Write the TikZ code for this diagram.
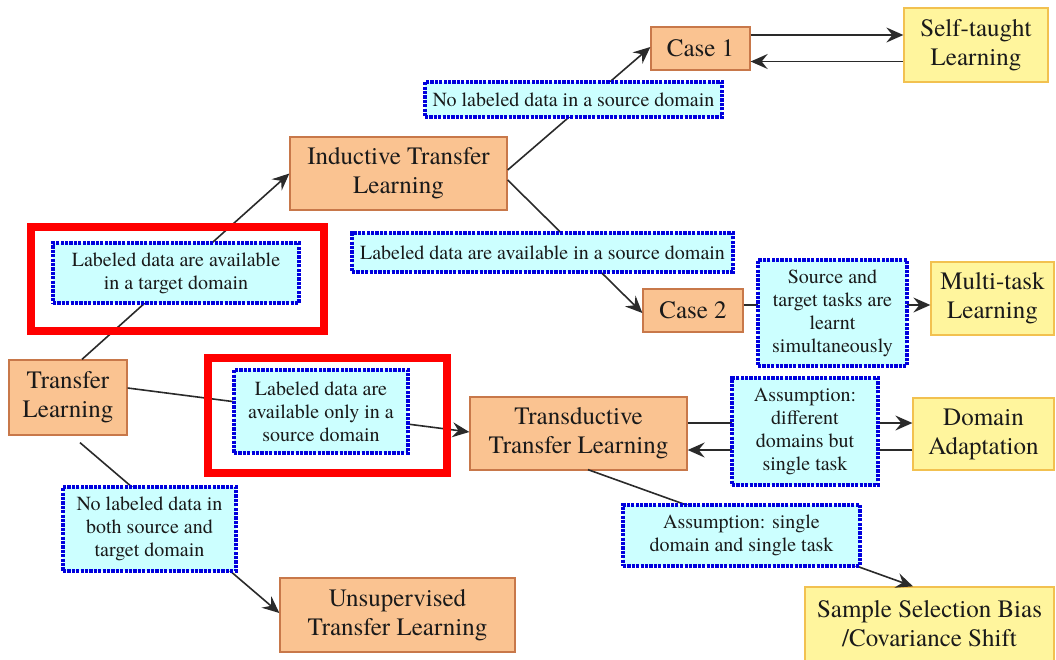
\documentclass[tikz,border=0pt]{standalone}
\usepackage{fontspec}
\setmainfont{TeX Gyre Termes}
\usetikzlibrary{arrows.meta,calc}

\definecolor{boxfill}{HTML}{FAC391}
\definecolor{boxline}{HTML}{C8784A}
\definecolor{leaffill}{HTML}{FFF59D}
\definecolor{leafline}{HTML}{F2C150}
\definecolor{condfill}{HTML}{CCFFFF}
\definecolor{condline}{HTML}{0000DD}
\definecolor{wire}{HTML}{2A2A2A}
\definecolor{ink}{HTML}{1A1A1A}

\tikzset{
  mainbox/.style={draw=boxline, fill=boxfill, line width=1.3pt, text=ink,
    font=\rmfamily\fontsize{25}{29}\selectfont, align=center, inner sep=0pt},
  leafbox/.style={mainbox, draw=leafline, fill=leaffill},
  condbox/.style={draw=condline, fill=condfill, line width=3.4pt,
    dash pattern=on 3.2pt off 1.2pt, text=ink,
    font=\rmfamily\fontsize{20}{23}\selectfont, align=center, inner sep=0pt},
  wireline/.style={draw=wire, line width=1.6pt},
  arrowline/.style={wireline, -{Stealth[length=17pt,width=15pt,inset=6pt]}},
  highlight/.style={draw=red, line width=8pt}
}

\begin{document}
\begin{tikzpicture}[x=1pt,y=-1pt]
\useasboundingbox (0,0) rectangle (1056,659);

% main categories
\node[mainbox, minimum width=118, minimum height=75] (TL) at (68,397.5) {Transfer\\Learning};
\node[mainbox, minimum width=217, minimum height=73] (Ind) at (398.5,173.5) {Inductive Transfer\\Learning};
\node[mainbox, minimum width=217, minimum height=73] (Trans) at (578.5,433.5) {Transductive\\Transfer Learning};
\node[mainbox, minimum width=235, minimum height=74] (Unsup) at (397.5,615) {Unsupervised\\Transfer Learning};
\node[mainbox, minimum width=99, minimum height=43] (Case1) at (700.5,48.5) {Case 1};
\node[mainbox, minimum width=100, minimum height=43] (Case2) at (693,310.5) {Case 2};

% resulting settings
\node[leafbox, minimum width=144, minimum height=74] (Self) at (976,45) {Self-taught\\Learning};
\node[leafbox, minimum width=123, minimum height=73] (Multi) at (992.5,298.5) {Multi-task\\Learning};
\node[leafbox, minimum width=141, minimum height=72] (DA) at (983.5,434) {Domain\\Adaptation};
\node[leafbox, minimum width=249, minimum height=74] (SSB) at (929.5,624) {Sample Selection Bias\\/Covariance Shift};

% connectors
\draw[arrowline] ($(TL.north)+(14,0)$) -- (Ind.west);
\draw[arrowline] ($(TL.east)+(0,-9.5)$) -- ($(Trans.west)+(0,-1.5)$);
\draw[arrowline] ($(TL.south)+(12,7)$) -- ($(Unsup.west)+(0,-2)$);
\draw[arrowline] ($(Ind.east)+(0,-3.5)$) -- ($(Case1.west)+(0,-1.5)$);
\draw[arrowline] ($(Ind.east)+(0,6.5)$) -- ($(Case2.west)+(0,2.5)$);

\coordinate (c1a) at ($(Case1.east)+(0,-13.5)$);
\coordinate (c1b) at ($(Case1.east)+(0,13)$);
\draw[arrowline] (c1a) -- (c1a -| Self.west);
\draw[arrowline] (c1b -| Self.west) -- (c1b);

\coordinate (c2a) at ($(Case2.east)+(0,-5.5)$);
\draw[arrowline] (c2a) -- (c2a -| Multi.west);

\coordinate (tra) at ($(Trans.east)+(0,-10.5)$);
\coordinate (trb) at ($(Trans.east)+(0,16.5)$);
\draw[arrowline] (tra) -- (tra -| DA.west);
\draw[arrowline] (trb -| DA.west) -- (trb);

\draw[arrowline] ($(Trans.south)+(9.5,-1)$) -- ($(SSB.north)+(-16.5,0)$);

% conditions, laid over the connectors
\node[condbox, minimum width=246, minimum height=60] (cTarget) at (176,273) {Labeled data are available\\in a target domain};
\node[condbox, minimum width=174, minimum height=83] (cOnlySrc) at (321,411.5) {Labeled data are\\available only in a\\source domain};
\node[condbox, minimum width=173, minimum height=84] (cNone) at (149.5,529) {No labeled data in\\both source and\\target domain};
\node[condbox, minimum width=297, minimum height=35] (cNoSrc) at (573.5,99.5) {No labeled data in a source domain};
\node[condbox, minimum width=381, minimum height=39] (cSrc) at (542.5,252.5) {Labeled data are available in a source domain};
\node[condbox, minimum width=149, minimum height=106] (cSimul) at (832.5,313) {Source and\\target tasks are\\learnt\\simultaneously};
\node[condbox, minimum width=146, minimum height=107] (cDiff) at (805,431.5) {Assumption:\\different\\domains but\\single task};
\node[condbox, minimum width=237, minimum height=61] (cSingle) at (741.5,535.5) {Assumption: single\\domain and single task};

% highlight frames
\draw[highlight] (31,227) rectangle (324,331);
\draw[highlight] (208,358) rectangle (447,473);
\end{tikzpicture}
\end{document}
